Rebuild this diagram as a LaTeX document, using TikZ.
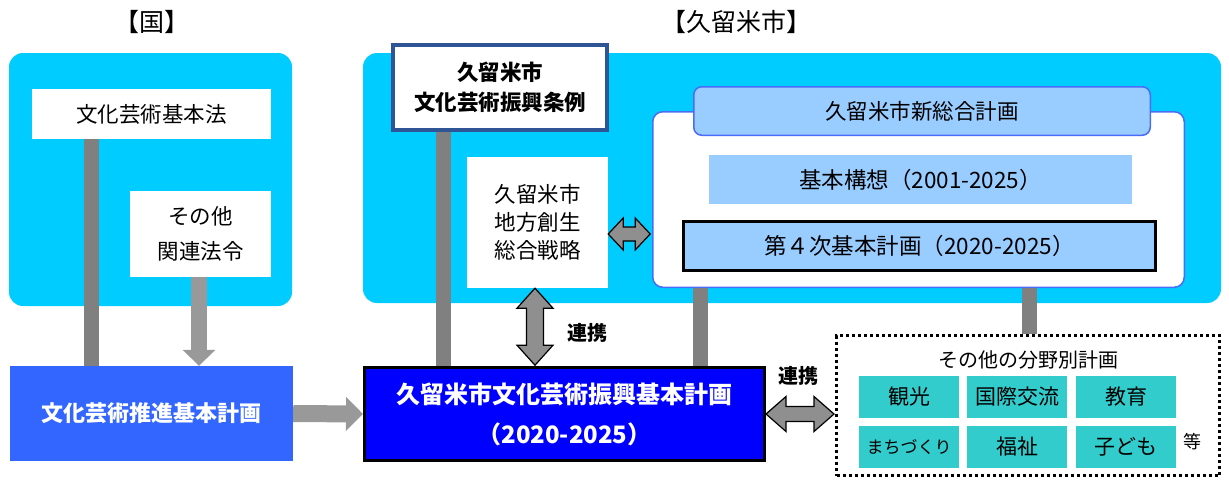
\documentclass[tikz,border=0pt]{standalone}
\usepackage{fontspec}
\setmainfont{Noto Sans CJK JP}
\usetikzlibrary{arrows.meta,calc}
\definecolor{cyanbg}{HTML}{00CCFF}
\definecolor{barg}{HTML}{808080}
\definecolor{arrg}{HTML}{999999}
\definecolor{darrg}{HTML}{8F8F8F}
\definecolor{lblue}{HTML}{99CCFF}
\definecolor{bblue}{HTML}{4A6CF7}
\definecolor{joreib}{HTML}{2F5597}
\definecolor{suishinb}{HTML}{3366FF}
\definecolor{mainb}{HTML}{0000FF}
\definecolor{tilec}{HTML}{33CCCC}
\newcommand\myfs[2]{\fontsize{#1}{#2}\selectfont}
\begin{document}
\begin{tikzpicture}[x=1pt,y=-1pt,
  bg/.style={fill=cyanbg, rounded corners=14pt, inner sep=0pt},
  wbox/.style={fill=white, inner sep=0pt, align=center, font=\myfs{21.5}{28}},
  bar/.style={draw=barg, line width=15pt},
  garrow/.style={draw=arrg, line width=16pt, -{Triangle[width=32pt,length=16pt]}},
  darrow/.style={fill=darrg, draw=black, line width=1.2pt, line join=miter},
  tilebox/.style={fill=tilec, inner sep=0pt, minimum width=100pt, minimum height=42pt, font=\myfs{21}{24}},
  lbl/.style={font=\bfseries\myfs{20}{24}}
]
\useasboundingbox (0,0) rectangle (1229,480);
% titles
\node[font=\myfs{25}{28}] (t1) at (152,22) {【国】};
\node[font=\myfs{25}{28}] (t2) at (736,22) {【久留米市】};
% backgrounds
\node[bg, minimum width=283pt, minimum height=253pt] (kuni) at (150.5,179.5) {};
\node[bg, minimum width=858pt, minimum height=250pt] (city) at (792,178) {};
% national boxes
\node[wbox, minimum width=239pt, minimum height=50pt] (kihonho) at (151.5,114) {文化芸術基本法};
\node[wbox, minimum width=141pt, minimum height=86pt, font=\myfs{21.5}{35}] (sonota) at (200.5,234) {その他\\関連法令};
\node[fill=suishinb, text=white, inner sep=0pt, font=\bfseries\myfs{22}{28}, minimum width=283pt, minimum height=95pt] (suishin) at (151.5,413.5) {文化芸術推進基本計画};
% city boxes
\node[wbox, minimum width=141pt, minimum height=131pt, font=\myfs{21.5}{28}] (chiho) at (537.5,222.5) {久留米市\\地方創生\\総合戦略};
\node[fill=white, draw=bblue, line width=1.5pt, rounded corners=10pt, inner sep=0pt, minimum width=531.5pt, minimum height=175.5pt] (sogo) at (918.5,199.5) {};
\node[fill=lblue, draw=bblue, line width=1.5pt, rounded corners=8pt, inner sep=0pt, minimum width=456.5pt, minimum height=48.5pt, font=\myfs{21.5}{24}] (header) at (922,111) {久留米市新総合計画};
\node[fill=lblue, inner sep=0pt, minimum width=423pt, minimum height=49pt, font=\myfs{22.5}{24}] (koso) at (920.5,179.5) {基本構想（2001-2025）};
\node[fill=lblue, draw=black, line width=3pt, inner sep=0pt, minimum width=472pt, minimum height=49pt, font=\myfs{22.5}{24}] (dai4) at (919.5,246) {第４次基本計画（2020-2025）};
% main box
\node[fill=mainb, draw=black, line width=3pt, inner sep=0pt, minimum width=400pt, minimum height=93pt, text=white, font=\bfseries\myfs{24}{40}, align=center] (main) at (564.5,414) {久留米市文化芸術振興基本計画\\（2020-2025）};
% other plans
\node[draw=black, line width=3pt, dash pattern=on 3pt off 3pt, inner sep=0pt, minimum width=383pt, minimum height=140pt] (others) at (1028,405.5) {};
\node[font=\myfs{20}{24}] (othtitle) at (1028,360) {その他の分野別計画};
\node[tilebox] (kanko) at (909,397) {観光};
\node[tilebox] (kokusai) at (1017,397) {国際交流};
\node[tilebox] (kyoiku) at (1126,397) {教育};
\node[tilebox, font=\myfs{17}{20}] (machi) at (909,447) {まちづくり};
\node[tilebox] (fukushi) at (1017,447) {福祉};
\node[tilebox] (kodomo) at (1126,447) {子ども};
\node[font=\myfs{18}{20}] (nado) at (1192,442) {等};
% bars
\draw[bar] ([xshift=-60pt]kihonho.south) -- ([xshift=-60pt]suishin.north);
\draw[bar] ([xshift=-218pt]sogo.south) -- ([xshift=-218pt]sogo.south |- main.north);
\draw[bar] ([xshift=110.5pt]sogo.south) -- ([xshift=110.5pt]sogo.south |- others.north);
% ordinance box and its bar
\node[fill=white, draw=joreib, line width=4pt, inner sep=0pt, minimum width=214pt, minimum height=85pt, font=\bfseries\myfs{21.5}{30}, align=center] (jorei) at (500,87.5) {久留米市\\文化芸術振興条例};
\draw[bar] ([xshift=-56.5pt]jorei.south) -- ([xshift=-56.5pt]jorei.south |- main.north);
% single arrows
\draw[garrow] ([xshift=-1.5pt]sonota.south) -- ([xshift=-1.5pt]sonota.south |- suishin.north);
\draw[draw=arrg, line width=17pt, -{Triangle[width=33pt,length=17pt]}] (suishin.east) -- (main.west);
% double arrows
\draw[darrow] ($(chiho.south)+(-2.5,0)$) -- ++(18,20) -- ++(-9.5,0) -- ++(0,37) -- ++(9.5,0) -- ++(-18,20) -- ++(-18,-20) -- ++(9.5,0) -- ++(0,-37) -- ++(-9.5,0) -- cycle;
\draw[darrow] ($(chiho.east)+(0,11.5)$) -- ++(15,-16) -- ++(0,9) -- ++(12,0) -- ++(0,-9) -- ++(15,16) -- ++(-15,16) -- ++(0,-9) -- ++(-12,0) -- ++(0,9) -- cycle;
\draw[darrow] (main.east) -- ++(20,-17.5) -- ++(0,10) -- ++(28,0) -- ++(0,-10) -- ++(20,17.5) -- ++(-20,17.5) -- ++(0,-10) -- ++(-28,0) -- ++(0,10) -- cycle;
% labels
\node[lbl] (renkei1) at (587,333) {連携};
\node[lbl] (renkei2) at (798,376) {連携};
\end{tikzpicture}
\end{document}
